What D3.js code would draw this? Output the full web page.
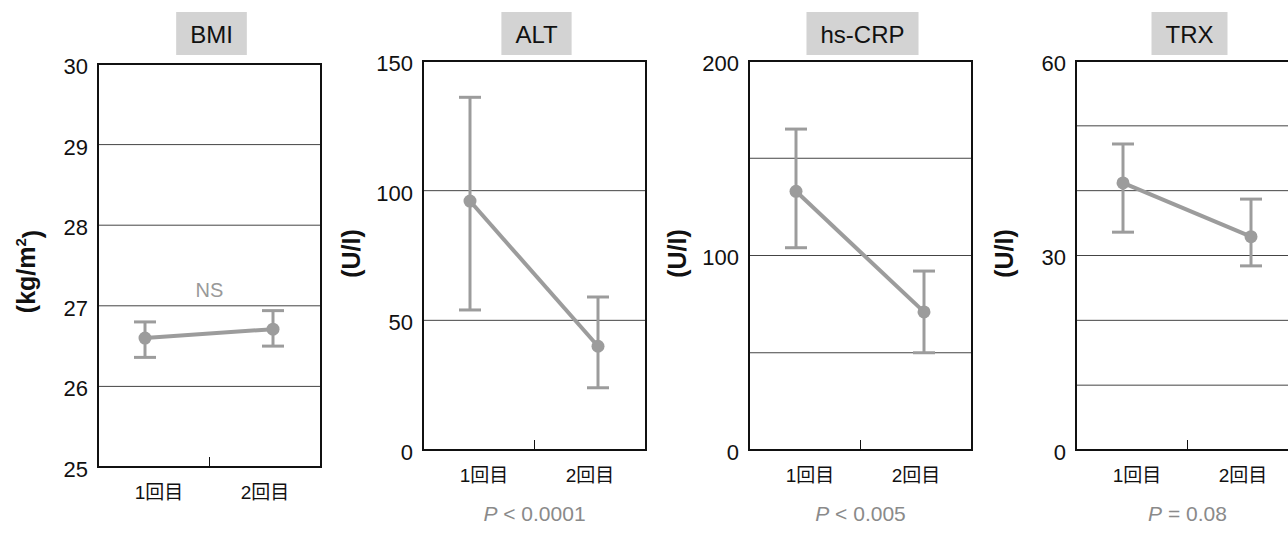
<!DOCTYPE html>
<html>
<head>
<meta charset="utf-8">
<script src="https://cdn.jsdelivr.net/npm/d3@7"></script>
<style>
  body { margin: 0; background: #fff; }
  text { font-family: "Liberation Sans", Arial, "Noto Sans CJK JP", sans-serif; }
</style>
</head>
<body>
<div id="chart"></div>
<script>
// Declare constants
const FRAME_WIDTH = 1288;
const FRAME_HEIGHT = 545;

// chart data
const panelTitles = ["BMI", "ALT", "hs-CRP", "TRX"];
const unitLabels = ["(kg/m²)", "(U/I)", "(U/I)", "(U/I)"];
const visits = ["1回目", "2回目"];
const meanValues = [[26.6, 26.71], [96, 40], [133, 71], [41.2, 32.9]];
const upperValues = [[26.8, 26.94], [136, 59], [165, 92], [47.2, 38.7]];
const lowerValues = [[26.36, 26.5], [54, 24], [104, 50], [33.6, 28.4]];
const yDomains = [[25, 30], [0, 150], [0, 200], [0, 60]];
const yTickLabels = [[25, 26, 27, 28, 29, 30], [0, 50, 100, 150], [0, 100, 200], [0, 30, 60]];
const gridValues = [[26, 27, 28, 29], [50, 100], [50, 100, 150], [10, 20, 30, 40, 50]];
const pLabels = ["NS", "< 0.0001", "< 0.005", "= 0.08"];

// layout
const PANEL_LEFT = [98, 423, 749, 1076];
const PANEL_W = 223;
const PANEL_TOP = [64, 61, 61, 61];
const PANEL_BOTTOM = [467, 450, 450, 450];
const GREY = "#9c9c9c";

const svg = d3.select("#chart")
  .append("svg")
    .attr("width", FRAME_WIDTH)
    .attr("height", FRAME_HEIGHT);

panelTitles.forEach((title, i) => {
  const left = PANEL_LEFT[i];
  const top = PANEL_TOP[i];
  const bottom = PANEL_BOTTOM[i];
  const cx = left + PANEL_W / 2;

  const y = d3.scaleLinear().domain(yDomains[i]).range([bottom, top]);
  const xPts = d3.scalePoint().domain(visits).range([left + 47, left + 175]);
  const xLab = d3.scalePoint().domain(visits).range([left + 61, left + 167]);

  const g = svg.append("g");

  // gridlines
  g.selectAll(".grid")
    .data(gridValues[i])
    .join("line")
      .attr("x1", left)
      .attr("x2", left + PANEL_W)
      .attr("y1", d => y(d))
      .attr("y2", d => y(d))
      .attr("stroke", "#444")
      .attr("stroke-width", 1);

  // frame
  g.append("rect")
    .attr("x", left)
    .attr("y", top)
    .attr("width", PANEL_W)
    .attr("height", bottom - top)
    .attr("fill", "none")
    .attr("stroke", "#111")
    .attr("stroke-width", 2);

  // middle tick on the bottom axis
  g.append("line")
    .attr("x1", cx).attr("x2", cx)
    .attr("y1", bottom).attr("y2", bottom - 10)
    .attr("stroke", "#111")
    .attr("stroke-width", 1);

  // y tick labels
  g.selectAll(".ylab")
    .data(yTickLabels[i])
    .join("text")
      .attr("x", left - 10)
      .attr("y", d => y(d) + 2)
      .attr("dy", "0.36em")
      .attr("text-anchor", "end")
      .attr("font-size", 22)
      .attr("fill", "#111")
      .text(d => d);

  // x labels
  g.selectAll(".xlab")
    .data(visits)
    .join("text")
      .attr("x", d => xLab(d))
      .attr("y", bottom + 25)
      .attr("dy", "0.36em")
      .attr("text-anchor", "middle")
      .attr("font-size", 19)
      .attr("fill", "#111")
      .text(d => d);

  // unit label
  const unitY = (top + bottom) / 2 + (i === 0 ? 6 : -2);
  const unit = g.append("text")
    .attr("transform", `translate(${left - 72},${unitY}) rotate(-90)`)
    .attr("text-anchor", "middle")
    .attr("dy", "0.36em")
    .attr("font-size", 25)
    .attr("font-weight", "bold")
    .attr("fill", "#111");
  if (unitLabels[i].includes("²")) {
    unit.append("tspan").text("(kg/m");
    unit.append("tspan").attr("font-size", 15).attr("dy", "-0.6em").text("2");
    unit.append("tspan").attr("dy", "0.6em").text(")");
  } else {
    unit.text(unitLabels[i]);
  }

  // title box
  const titleText = g.append("text")
    .attr("x", cx + 2)
    .attr("y", 34)
    .attr("dy", "0.36em")
    .attr("text-anchor", "middle")
    .attr("font-size", 24)
    .attr("fill", "#111")
    .text(title);
  const tw = titleText.node().getComputedTextLength();
  g.insert("rect", "text")
    .attr("x", cx + 2 - tw / 2 - 14)
    .attr("y", 12)
    .attr("width", tw + 28)
    .attr("height", 43)
    .attr("fill", "#d3d3d3");
  titleText.raise();

  // data: error bars, line, markers
  const pts = visits.map((v, j) => ({v: v, m: meanValues[i][j], hi: upperValues[i][j], lo: lowerValues[i][j]}));

  g.selectAll(".err")
    .data(pts)
    .join("line")
      .attr("x1", d => xPts(d.v)).attr("x2", d => xPts(d.v))
      .attr("y1", d => y(d.hi)).attr("y2", d => y(d.lo))
      .attr("stroke", GREY)
      .attr("stroke-width", 3);

  ["hi", "lo"].forEach(k => {
    g.selectAll(".cap-" + k)
      .data(pts)
      .join("line")
        .attr("x1", d => xPts(d.v) - 11).attr("x2", d => xPts(d.v) + 11)
        .attr("y1", d => y(d[k])).attr("y2", d => y(d[k]))
        .attr("stroke", GREY)
        .attr("stroke-width", 3);
  });

  g.append("path")
    .datum(pts)
    .attr("d", d3.line().x(d => xPts(d.v)).y(d => y(d.m)))
    .attr("fill", "none")
    .attr("stroke", GREY)
    .attr("stroke-width", 4);

  g.selectAll(".dot")
    .data(pts)
    .join("circle")
      .attr("cx", d => xPts(d.v))
      .attr("cy", d => y(d.m))
      .attr("r", 6.5)
      .attr("fill", GREY);

  // significance label
  if (pLabels[i] === "NS") {
    g.append("text")
      .attr("x", cx)
      .attr("y", 290)
      .attr("dy", "0.36em")
      .attr("text-anchor", "middle")
      .attr("font-size", 20)
      .attr("fill", "#999")
      .text("NS");
  } else {
    const pt = g.append("text")
      .attr("x", cx)
      .attr("y", bottom + 63)
      .attr("dy", "0.36em")
      .attr("text-anchor", "middle")
      .attr("font-size", 21)
      .attr("fill", "#8a8a8a");
    pt.append("tspan").attr("font-style", "italic").text("P");
    pt.append("tspan").text(" " + pLabels[i]);
  }
});
</script>
</body>
</html>
